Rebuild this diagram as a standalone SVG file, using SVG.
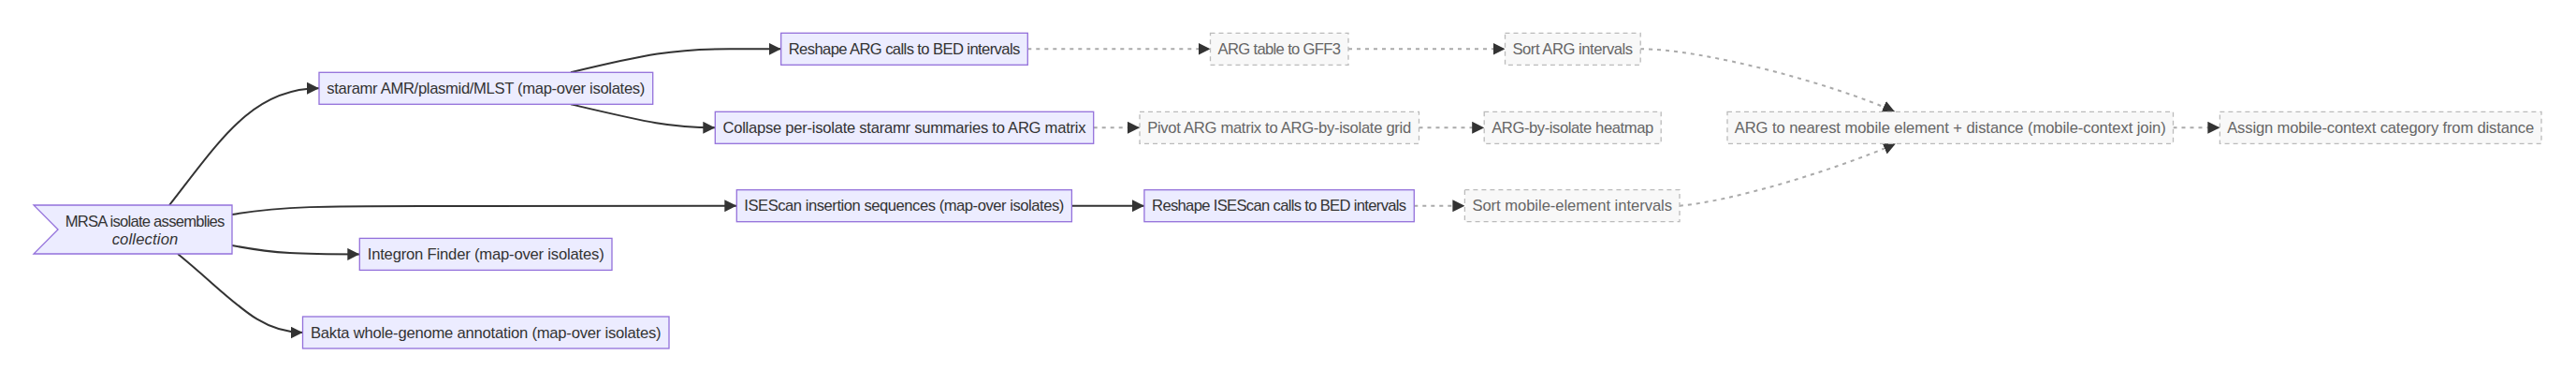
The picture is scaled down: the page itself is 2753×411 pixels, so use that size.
<svg xmlns="http://www.w3.org/2000/svg" width="2753" height="411" viewBox="0 0 2753 411">
<style>
  .bg { fill: #ffffff; }
  .node rect, .node polygon { fill: #ECECFF; stroke: #9370DB; stroke-width: 1.3; }
  .node text { fill: #333333; font-family: "Liberation Sans", Arial, sans-serif; font-size: 16.6px; text-anchor: middle; }
  .dnode rect { fill: #f8f8f8; stroke: #bbbbbb; stroke-width: 1.3; stroke-dasharray: 5 4; }
  .dnode text { fill: #666666; font-family: "Liberation Sans", Arial, sans-serif; font-size: 16.6px; text-anchor: middle; }
  .edge { fill: none; stroke: #333333; stroke-width: 2; }
  .dedge { fill: none; stroke: #aaaaaa; stroke-width: 2; stroke-dasharray: 4 5; }
</style>
<defs>
  <marker id="arrow" viewBox="0 0 10 10" refX="10" refY="5" markerUnits="userSpaceOnUse" markerWidth="13" markerHeight="13" orient="auto">
    <path d="M0,0 L10,5 L0,10 z" fill="#333333"/>
  </marker>
</defs>
<rect class="bg" x="0" y="0" width="2753" height="411"/>

<g id="connectors">
  <path class="edge" d="M181,219 C235,150 270,94 341,94.3" marker-end="url(#arrow)"/>
  <path class="edge" d="M248,229 C300,220 350,220 450,220 L787.3,219.7" marker-end="url(#arrow)"/>
  <path class="edge" d="M248,262 C295,271 320,271.4 384.3,271.4" marker-end="url(#arrow)"/>
  <path class="edge" d="M190,271 C250,320 275,355 323.5,355" marker-end="url(#arrow)"/>
  <path class="edge" d="M610,77.3 C690,58 720,52.3 780,52.3 L834.7,52.3" marker-end="url(#arrow)"/>
  <path class="edge" d="M610,111.3 C690,130 715,136.3 764.3,136.3" marker-end="url(#arrow)"/>
  <path class="edge" d="M1145.4,219.7 L1222.9,219.7" marker-end="url(#arrow)"/>
  <path class="dedge" d="M1098.3,52.3 L1293.5,52.3" marker-end="url(#arrow)"/>
  <path class="dedge" d="M1441,52.3 L1608.5,52.3" marker-end="url(#arrow)"/>
  <path class="dedge" d="M1753.2,52.3 C1820,52 1960,90 2025,119.3" marker-end="url(#arrow)"/>
  <path class="dedge" d="M1168.7,136.3 L1218,136.3" marker-end="url(#arrow)"/>
  <path class="dedge" d="M1516.5,136.3 L1586.2,136.3" marker-end="url(#arrow)"/>
  <path class="dedge" d="M2322.5,136.3 L2372.4,136.3" marker-end="url(#arrow)"/>
  <path class="dedge" d="M1511.3,219.7 L1565.4,219.7" marker-end="url(#arrow)"/>
  <path class="dedge" d="M1795,219.7 C1850,215 1960,182 2026,153.3" marker-end="url(#arrow)"/>
</g>

<g id="n_mrsa" class="node">
  <polygon points="36,219 248,219 248,271 36,271 62,245"/>
  <text x="155" y="242" textLength="170.7">MRSA isolate assemblies</text>
  <text x="155" y="261" font-style="italic" textLength="70.7">collection</text>
</g>
<g id="n_staramr" class="node">
  <rect x="341" y="77.3" width="356.7" height="34"/>
  <text x="519.3" y="100" textLength="340">staramr AMR/plasmid/MLST (map-over isolates)</text>
</g>
<g id="n_reshape_arg" class="node">
  <rect x="834.7" y="35.3" width="263.6" height="34"/>
  <text x="966.5" y="58" textLength="247.6">Reshape ARG calls to BED intervals</text>
</g>
<g id="n_arg_gff3" class="dnode">
  <rect x="1293.5" y="35.3" width="147.5" height="34"/>
  <text x="1367.3" y="58" textLength="131.5">ARG table to GFF3</text>
</g>
<g id="n_sort_arg" class="dnode">
  <rect x="1608.5" y="35.3" width="144.7" height="34"/>
  <text x="1680.8" y="58" textLength="128.6">Sort ARG intervals</text>
</g>
<g id="n_collapse" class="node">
  <rect x="764.3" y="119.3" width="404.4" height="34"/>
  <text x="966.5" y="142" textLength="388">Collapse per-isolate staramr summaries to ARG matrix</text>
</g>
<g id="n_pivot" class="dnode">
  <rect x="1218" y="119.3" width="298.5" height="34"/>
  <text x="1367.2" y="142" textLength="282">Pivot ARG matrix to ARG-by-isolate grid</text>
</g>
<g id="n_heatmap" class="dnode">
  <rect x="1586.2" y="119.3" width="189" height="34"/>
  <text x="1680.7" y="142" textLength="173">ARG-by-isolate heatmap</text>
</g>
<g id="n_join" class="dnode">
  <rect x="1846" y="119.3" width="476.5" height="34"/>
  <text x="2084.2" y="142" textLength="461">ARG to nearest mobile element + distance (mobile-context join)</text>
</g>
<g id="n_assign" class="dnode">
  <rect x="2372.4" y="119.3" width="343.6" height="34"/>
  <text x="2544.2" y="142" textLength="328">Assign mobile-context category from distance</text>
</g>
<g id="n_isescan" class="node">
  <rect x="787.3" y="202.7" width="358.1" height="34"/>
  <text x="966.3" y="225.4" textLength="342">ISEScan insertion sequences (map-over isolates)</text>
</g>
<g id="n_reshape_is" class="node">
  <rect x="1222.9" y="202.7" width="288.4" height="34"/>
  <text x="1367.1" y="225.4" textLength="272">Reshape ISEScan calls to BED intervals</text>
</g>
<g id="n_sort_mobile" class="dnode">
  <rect x="1565.4" y="202.7" width="229.6" height="34"/>
  <text x="1680.2" y="225.4" textLength="213.6">Sort mobile-element intervals</text>
</g>
<g id="n_integron" class="node">
  <rect x="384.3" y="254.4" width="269.7" height="34"/>
  <text x="519.2" y="277.1" textLength="253">Integron Finder (map-over isolates)</text>
</g>
<g id="n_bakta" class="node">
  <rect x="323.5" y="338" width="391.5" height="34"/>
  <text x="519.3" y="360.7" textLength="374.7">Bakta whole-genome annotation (map-over isolates)</text>
</g>
</svg>
